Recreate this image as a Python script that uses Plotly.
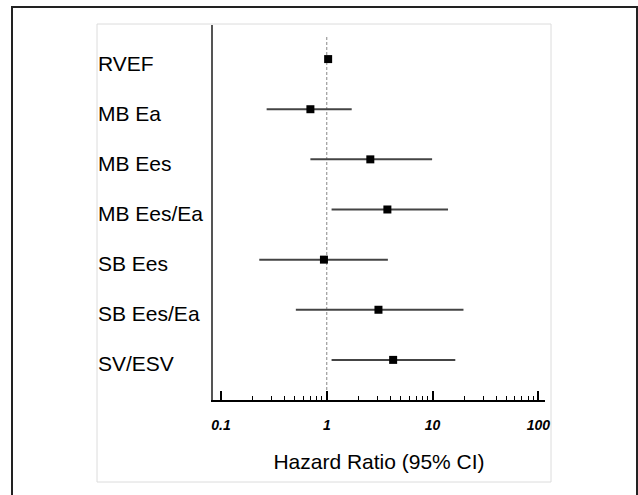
import plotly.graph_objects as go

categories = ["RVEF", "MB Ea", "MB Ees", "MB Ees/Ea", "SB Ees", "SB Ees/Ea", "SV/ESV"]
hr = [1.03, 0.70, 2.58, 3.74, 0.94, 3.08, 4.24]
ci_low = [1.00, 0.27, 0.70, 1.11, 0.23, 0.51, 1.11]
ci_high = [1.07, 1.72, 9.9, 14.0, 3.78, 19.6, 16.4]
tick_vals = [0.1, 1, 10, 100]
tick_text = ["0.1", "1", "10", "100"]
x_title = "Hazard Ratio (95% CI)"

FONT = "Arial, 'Liberation Sans', sans-serif"
W, H = 638, 495
L, R, T, B = 213, 93, 25, 95
PW, PH = W - L - R, H - T - B

def px_x(p):
    return (p - L) / PW

def px_y(p):
    return (H - B - p) / PH

fig = go.Figure()
fig.add_trace(go.Scatter(
    x=hr, y=categories, mode="markers",
    marker=dict(symbol="square", size=8, color="black"),
    error_x=dict(type="data", symmetric=False,
                 array=[u - v for v, u in zip(hr, ci_high)],
                 arrayminus=[v - l for v, l in zip(hr, ci_low)],
                 color="#444", thickness=2, width=0),
    showlegend=False, hoverinfo="skip",
))

# category labels, left aligned
for c in categories:
    fig.add_annotation(x=px_x(96), xref="paper", y=c, yref="y", text=c,
                       showarrow=False, xanchor="left", yanchor="middle", yshift=-4,
                       font=dict(family=FONT, size=21, color="black"))

shapes = [
    dict(type="rect", xref="paper", yref="paper", x0=px_x(12), x1=px_x(637),
         y0=px_y(520), y1=px_y(7), line=dict(color="#222", width=2), layer="below"),
    dict(type="rect", xref="paper", yref="paper", x0=px_x(97), x1=px_x(551),
         y0=px_y(482), y1=px_y(24), line=dict(color="#dcdcdc", width=1), layer="below"),
    dict(type="line", xref="x", yref="paper", x0=1, x1=1, y0=0, y1=px_y(35),
         line=dict(color="#888", width=1, dash="3px,2px"), layer="below"),
]
fig.update_layout(shapes=shapes)

fig.update_xaxes(
    type="log", range=[-1.0757, 2.063],
    tickvals=tick_vals, ticktext=["<b><i>%s</i></b>" % t for t in tick_text],
    ticks="inside", ticklen=9, tickwidth=1.5, tickcolor="black",
    minor=dict(ticks="inside", ticklen=4, tickcolor="black", tickwidth=1,
               tickvals=[m * d for d in (0.1, 1, 10) for m in range(2, 10)]),
    showline=True, linecolor="black", linewidth=2,
    showgrid=False, zeroline=False, ticklabelstandoff=11,
    tickfont=dict(family=FONT, size=14, color="black"),
    title=dict(text=x_title, font=dict(family=FONT, size=21, color="black"), standoff=23),
)
fig.update_yaxes(
    type="category", categoryorder="array", categoryarray=categories,
    range=[6.8, -0.68], showticklabels=False, ticks="",
    showline=True, linecolor="#555", linewidth=2, showgrid=False, zeroline=False,
)
fig.update_layout(
    width=W, height=H, margin=dict(l=L, r=R, t=T, b=B, autoexpand=False),
    plot_bgcolor="white", paper_bgcolor="white",
    font=dict(family=FONT),
)
fig.write_html("out.html")
